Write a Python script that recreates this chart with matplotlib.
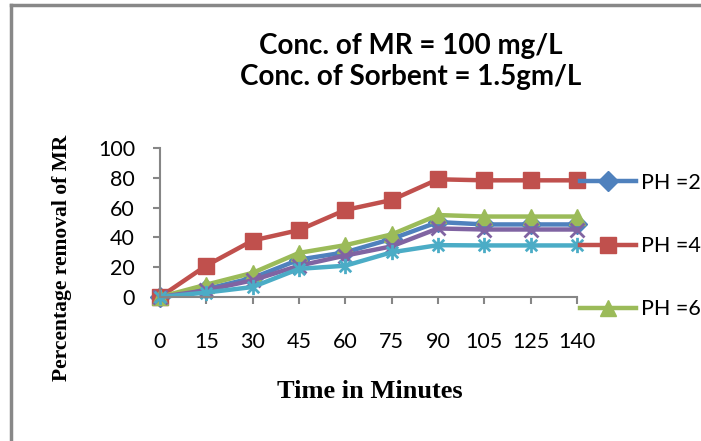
import numpy as np
import matplotlib.pyplot as plt
from matplotlib.path import Path
from matplotlib.lines import Line2D

times = ["0", "15", "30", "45", "60", "75", "90", "105", "125", "140"]
ph2 = [0, 5.4, 12.8, 25.1, 30, 39, 50.3, 48.7, 48.7, 48.7]
ph4 = [0, 21.1, 37.9, 44.9, 58.4, 65.1, 79.0, 78.3, 78.3, 78.3]
ph6 = [0, 8.3, 16.2, 29.6, 34.8, 42, 55, 54, 54, 54]
ph8 = [0, 4.5, 11.2, 21, 27.8, 34, 46, 45.3, 45.3, 45.3]
ph10 = [0, 3, 6.7, 18.9, 21, 30, 34.8, 34.6, 34.6, 34.6]
labels = ["PH =2", "PH =4", "PH =6", "PH =8", "PH =10"]

# excel style star: vertical bar + x
star = Path([(0, -1), (0, 1), (-0.75, -0.75), (0.75, 0.75), (-0.75, 0.75), (0.75, -0.75)],
            [Path.MOVETO, Path.LINETO, Path.MOVETO, Path.LINETO, Path.MOVETO, Path.LINETO])

series = [
    (ph2, "#4F81BD", "D", 10),
    (ph4, "#C0504D", "s", 11),
    (ph6, "#9BBB59", "^", 12),
    (ph8, "#8064A2", "x", 10),
    (ph10, "#4BACC6", star, 11),
]

fig = plt.figure(figsize=(7.01, 4.41), dpi=100)
ax = fig.add_axes([160/701, 1-297/441, 417/701, 149/441])

x = np.arange(len(times))
handles = []
for (vals, col, mk, ms), lab in zip(series, labels):
    filled = mk in ("D", "s", "^")
    ln, = ax.plot(x, vals, color=col, lw=3.2, marker=mk, markersize=ms,
                  markerfacecolor=col if filled else "none",
                  markeredgecolor=col, markeredgewidth=1 if filled else 2,
                  label=lab, clip_on=False, solid_joinstyle="round")
    handles.append(ln)

ax.set_xlim(0, 9)
ax.set_ylim(0, 100)
ax.set_yticks(range(0, 101, 20))
ax.set_xticks(x)
ax.set_xticklabels(times)
for s in ["top", "right"]:
    ax.spines[s].set_visible(False)
for s in ["left", "bottom"]:
    ax.spines[s].set_color("#868686")
    ax.spines[s].set_linewidth(1.5)
ax.tick_params(axis="both", colors="#868686", length=5, width=1.5, labelcolor="black",
               labelsize=15.5)
ax.tick_params(axis="x", pad=20)
ax.tick_params(axis="y", pad=13)
for t in ax.get_xticklabels() + ax.get_yticklabels():
    t.set_family("Lato")

fig.text(62/701, 1-258/441, "Percentage removal of MR", rotation=90, ha="center",
         va="center", family="Liberation Serif", fontweight="bold", fontsize=15.5)
fig.text(370/701, 1-391/441, "Time in Minutes", ha="center", va="center",
         family="Liberation Serif", fontweight="bold", fontsize=19)

fig.text(411/701, 1-46/441, "Conc. of MR = 100 mg/L", ha="center", va="center",
         family="Lato", fontweight="bold", fontsize=20)
fig.text(411/701, 1-77/441, "Conc. of Sorbent = 1.5gm/L", ha="center", va="center",
         family="Lato", fontweight="bold", fontsize=20)

fig.legend(handles=handles[:3], loc="upper left", bbox_to_anchor=(580/701, 1-173/441),
           frameon=False, prop={"family": "Lato", "size": 15.5}, handlelength=2.6,
           labelspacing=2.0, borderaxespad=0, borderpad=0, handletextpad=0.25)

# outer chart border (left and top visible)
fig.add_artist(Line2D([11/701, 11/701], [0, 1-5/441], color="#888888", lw=2.5))
fig.add_artist(Line2D([11/701, 1], [1-5/441, 1-5/441], color="#888888", lw=2.5))

fig.savefig("out.png", dpi=100)
